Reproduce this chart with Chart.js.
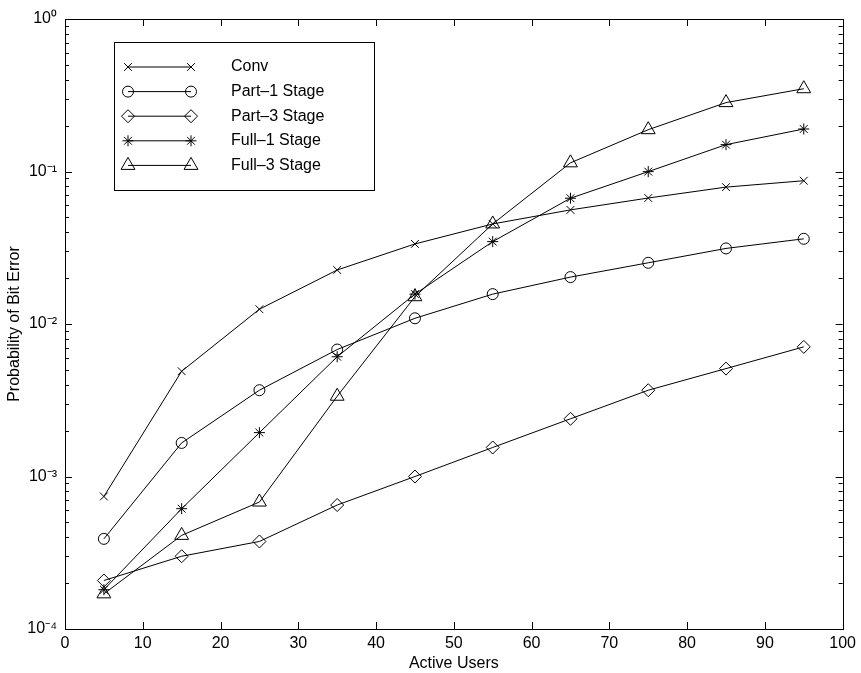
<!DOCTYPE html>
<html>
<head>
<meta charset="utf-8">
<script src="https://cdn.jsdelivr.net/npm/chart.js@4"></script>
<style>
  html, body { margin: 0; padding: 0; background: #fff; }
  #wrap { width: 861px; height: 673px; }
</style>
</head>
<body>
<div id="wrap"><canvas id="mycanvas" width="861" height="673"></canvas></div>
<script>
// values
var users = [5, 15, 25, 35, 45, 55, 65, 75, 85, 95];
var conv  = [7.4e-4, 4.9e-3, 1.25e-2, 2.26e-2, 3.35e-2, 4.53e-2, 5.6e-2, 6.7e-2, 7.9e-2, 8.7e-2];
var part1 = [3.9e-4, 1.66e-3, 3.68e-3, 6.8e-3, 1.09e-2, 1.57e-2, 2.03e-2, 2.52e-2, 3.13e-2, 3.62e-2];
var part3 = [2.08e-4, 3.0e-4, 3.75e-4, 6.5e-4, 1.0e-3, 1.55e-3, 2.39e-3, 3.68e-3, 5.1e-3, 7.08e-3];
var full1 = [1.81e-4, 6.15e-4, 1.94e-3, 6.1e-3, 1.57e-2, 3.47e-2, 6.68e-2, 9.98e-2, 0.150, 0.190];
var full3 = [1.70e-4, 4.11e-4, 6.8e-4, 3.36e-3, 1.51e-2, 4.53e-2, 0.114, 0.188, 0.283, 0.349];

var seriesNames = ["Conv", "Part\u20131 Stage", "Part\u20133 Stage", "Full\u20131 Stage", "Full\u20133 Stage"];
var seriesData = [conv, part1, part3, full1, full3];
var markers = ["crossRot", "circle", "rectRot", "star", "triangle"];
var markerSize = [5.5, 5.5, 6.5, 5.5, 8];

var xTicks = [0, 10, 20, 30, 40, 50, 60, 70, 80, 90, 100];
var yDecades = [-4, -3, -2, -1, 0];
var supers = { "0": "\u2070", "1": "\u00b9", "2": "\u00b2", "3": "\u00b3", "4": "\u2074", "-": "\u207b" };

var FONT = "'Liberation Sans', Arial, Helvetica, sans-serif";
var FS = 16;

function toPoints(ys) {
  var pts = [];
  for (var i in users) pts.push({ x: users[i], y: ys[i] });
  return pts;
}

function powLabel(v) {
  var e = Math.round(Math.log10(v));
  if (Math.abs(Math.log10(v) - e) > 1e-6) return "";
  var s = String(e), out = "";
  for (var k = 0; k < s.length; k++) out += supers[s[k]];
  return "10" + out;
}

// box frame with inward MATLAB-style ticks
var frameTicks = {
  id: "frameTicks",
  afterDatasetsDraw: function(chart) {
    var ctx = chart.ctx, a = chart.chartArea;
    var xs = chart.scales.x, ys = chart.scales.y;
    ctx.save();
    ctx.strokeStyle = "#000";
    ctx.lineWidth = 1;
    ctx.strokeRect(Math.round(a.left) + 0.5, Math.round(a.top) + 0.5,
                   Math.round(a.right - a.left), Math.round(a.bottom - a.top));
    ctx.beginPath();
    xs.ticks.forEach(function(t) {
      var px = Math.round(xs.getPixelForValue(t.value)) + 0.5;
      ctx.moveTo(px, a.bottom); ctx.lineTo(px, a.bottom - 7);
      ctx.moveTo(px, a.top); ctx.lineTo(px, a.top + 7);
    });
    ys.ticks.forEach(function(t) {
      var py = Math.round(ys.getPixelForValue(t.value)) + 0.5;
      var len = powLabel(t.value) ? 7 : 4;
      ctx.moveTo(a.left, py); ctx.lineTo(a.left + len, py);
      ctx.moveTo(a.right, py); ctx.lineTo(a.right - len, py);
    });
    ctx.stroke();
    ctx.restore();
  }
};

// legend in a bordered box, upper left inside the axes
var boxLegend = {
  id: "boxLegend",
  afterDraw: function(chart) {
    var ctx = chart.ctx, a = chart.chartArea;
    var bx = Math.round(a.left) + 49, by = Math.round(a.top) + 23;
    ctx.save();
    ctx.fillStyle = "#fff";
    ctx.fillRect(bx, by, 260, 148);
    ctx.strokeStyle = "#000";
    ctx.lineWidth = 1;
    ctx.strokeRect(bx + 0.5, by + 0.5, 260, 148);
    chart.data.datasets.forEach(function(ds, i) {
      var y = by + 25 + i * 24.6;
      var x1 = bx + 14, x2 = bx + 77;
      ctx.strokeStyle = "#000";
      ctx.lineWidth = 1;
      ctx.beginPath();
      ctx.moveTo(x1, y); ctx.lineTo(x2, y);
      ctx.stroke();
      var opts = { pointStyle: ds.pointStyle, radius: ds.pointRadius, rotation: 0, borderWidth: 1 };
      ctx.fillStyle = "rgba(0,0,0,0)";
      Chart.helpers.drawPoint(ctx, opts, x1, y);
      Chart.helpers.drawPoint(ctx, opts, x2, y);
      ctx.fillStyle = "#000";
      ctx.font = FS + "px " + FONT;
      ctx.textBaseline = "middle";
      ctx.textAlign = "left";
      ctx.fillText(ds.label, bx + 117, y);
    });
    ctx.restore();
  }
};

var datasets = [];
for (var i in seriesNames) {
  datasets.push({
    label: seriesNames[i],
    data: toPoints(seriesData[i]),
    borderColor: "#000",
    borderWidth: 1,
    backgroundColor: "rgba(0,0,0,0)",
    pointStyle: markers[i],
    pointRadius: markerSize[i],
    pointHoverRadius: markerSize[i],
    pointBorderColor: "#000",
    pointBackgroundColor: "rgba(0,0,0,0)",
    pointBorderWidth: 1,
    tension: 0,
    fill: false
  });
}

var ctx = document.getElementById("mycanvas");
var LineGraph = new Chart(ctx, {
  type: "line",
  data: { datasets: datasets },
  plugins: [frameTicks, boxLegend],
  options: {
    responsive: false,
    animation: false,
    devicePixelRatio: 1,
    layout: { padding: { top: 19, right: 17, left: 0, bottom: 0 } },
    plugins: {
      legend: { display: false },
      tooltip: { enabled: false }
    },
    scales: {
      x: {
        type: "linear",
        min: 0,
        max: 100,
        afterBuildTicks: function(scale) {
          scale.ticks = xTicks.map(function(v) { return { value: v }; });
        },
        afterFit: function(scale) { scale.height = 44; },
        grid: { display: false, drawTicks: false },
        border: { display: false },
        ticks: {
          color: "#000",
          padding: 5,
          maxRotation: 0,
          autoSkip: false,
          font: { family: FONT, size: FS }
        },
        title: {
          display: true,
          text: "Active Users",
          color: "#000",
          padding: { top: 0, bottom: 0 },
          font: { family: FONT, size: FS }
        }
      },
      y: {
        type: "logarithmic",
        min: 1e-4,
        max: 1,
        afterBuildTicks: function(scale) {
          var t = [];
          yDecades.forEach(function(d) {
            var base = Math.pow(10, d);
            for (var m = 1; m <= 9; m++) {
              if (d === 0 && m > 1) break;
              t.push({ value: m * base });
            }
          });
          scale.ticks = t;
        },
        afterFit: function(scale) { scale.width = 65; },
        grid: { display: false, drawTicks: false },
        border: { display: false },
        ticks: {
          color: "#000",
          padding: 8,
          autoSkip: false,
          font: { family: FONT, size: FS },
          callback: function(v) { return powLabel(v); }
        },
        title: {
          display: true,
          text: "Probability of Bit Error",
          color: "#000",
          padding: { top: 5, bottom: 0 },
          font: { family: FONT, size: FS }
        }
      }
    }
  }
});
</script>
</body>
</html>
